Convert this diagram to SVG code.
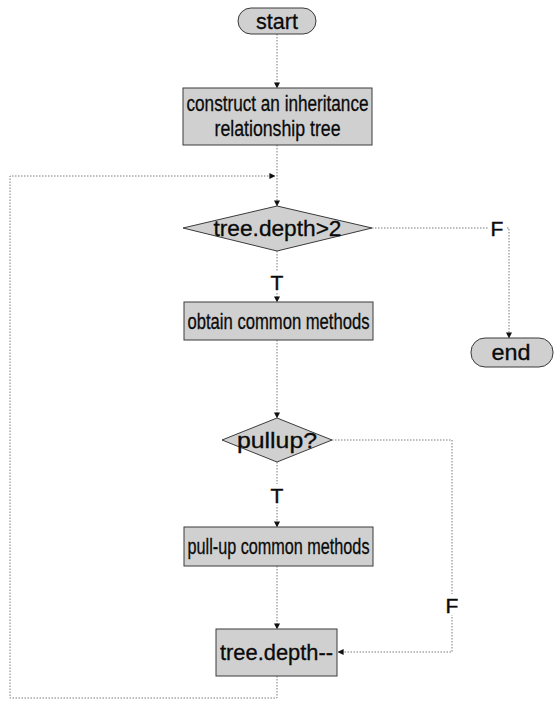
<svg xmlns="http://www.w3.org/2000/svg" width="557" height="701" viewBox="0 0 557 701">
  <style>
    .node { fill: #d0d0d0; stroke: #3a3a3a; stroke-width: 1; }
    .txt { font-family: "Liberation Sans", Arial, sans-serif; font-size: 22px; fill: #0a0a0a; stroke: #0a0a0a; stroke-width: 0.3; text-anchor: middle; }
    .lbl { font-family: "Liberation Sans", Arial, sans-serif; font-size: 21px; fill: #0a0a0a; stroke: #0a0a0a; stroke-width: 0.4; text-anchor: middle; }
    .edge { fill: none; stroke: #7a7a7a; stroke-width: 1; stroke-dasharray: 1.5 1.5; }
    .gap { fill: #ffffff; }
  </style>
  <defs>
    <marker id="arrow" viewBox="0 0 8 8" refX="7.5" refY="4" markerWidth="6" markerHeight="6" orient="auto" markerUnits="userSpaceOnUse">
      <path d="M0,0 L8,4 L0,8 z" fill="#111"/>
    </marker>
  </defs>
  <rect width="557" height="701" fill="#ffffff"/>

  <g id="connectors">
    <path class="edge" d="M277,34 V88" marker-end="url(#arrow)"/>
    <path class="edge" d="M277,145 V206" marker-end="url(#arrow)"/>
    <path class="edge" d="M277,676 V698 H10 V176 H275" marker-end="url(#arrow)"/>
    <path class="edge" d="M372,228 H509 V338" marker-end="url(#arrow)"/>
    <path class="edge" d="M277,251 V302" marker-end="url(#arrow)"/>
    <path class="edge" d="M277,340 V418" marker-end="url(#arrow)"/>
    <path class="edge" d="M332,440 H452 V652 H338" marker-end="url(#arrow)"/>
    <path class="edge" d="M277,462 V527" marker-end="url(#arrow)"/>
    <path class="edge" d="M277,566 V629" marker-end="url(#arrow)"/>
    <!-- branch labels sit on the lines -->
    <rect class="gap" x="489" y="217" width="17" height="21"/>
    <text class="lbl" x="497" y="236">F</text>
    <rect class="gap" x="269" y="271" width="17" height="21"/>
    <text class="lbl" x="277" y="290">T</text>
    <rect class="gap" x="269" y="484" width="17" height="21"/>
    <text class="lbl" x="277" y="503">T</text>
    <rect class="gap" x="444" y="594" width="17" height="21"/>
    <text class="lbl" x="452" y="613">F</text>
  </g>

  <g id="start">
    <rect class="node" x="238" y="8" width="78" height="26" rx="13"/>
    <text class="txt" x="277" y="29" textLength="42" lengthAdjust="spacingAndGlyphs">start</text>
  </g>

  <g id="build-tree">
    <rect class="node" x="183" y="88" width="189" height="57"/>
    <text class="txt" x="277.5" y="111" textLength="182" lengthAdjust="spacingAndGlyphs">construct an inheritance</text>
    <text class="txt" x="277.5" y="136" textLength="126" lengthAdjust="spacingAndGlyphs">relationship tree</text>
  </g>

  <g id="depth-check">
    <polygon class="node" points="183,228 277,206 372,228 277,251"/>
    <text class="txt" x="277.5" y="236" textLength="128" lengthAdjust="spacingAndGlyphs">tree.depth&gt;2</text>
  </g>

  <g id="end">
    <rect class="node" x="471" y="338" width="82" height="29" rx="14"/>
    <text class="txt" x="511" y="360" textLength="39" lengthAdjust="spacingAndGlyphs">end</text>
  </g>

  <g id="common-methods">
    <rect class="node" x="184" y="302" width="189" height="38"/>
    <text class="txt" x="278.5" y="329" textLength="182" lengthAdjust="spacingAndGlyphs">obtain common methods</text>
  </g>

  <g id="pullup-check">
    <polygon class="node" points="222,440 277,418 332,440 277,462"/>
    <text class="txt" x="277" y="448" textLength="80" lengthAdjust="spacingAndGlyphs">pullup?</text>
  </g>

  <g id="pull-up">
    <rect class="node" x="184" y="527" width="189" height="39"/>
    <text class="txt" x="278.5" y="554" textLength="182" lengthAdjust="spacingAndGlyphs">pull-up common methods</text>
  </g>

  <g id="decrement">
    <rect class="node" x="216" y="629" width="121" height="47"/>
    <text class="txt" x="276.5" y="660" textLength="113" lengthAdjust="spacingAndGlyphs">tree.depth--</text>
  </g>
</svg>
